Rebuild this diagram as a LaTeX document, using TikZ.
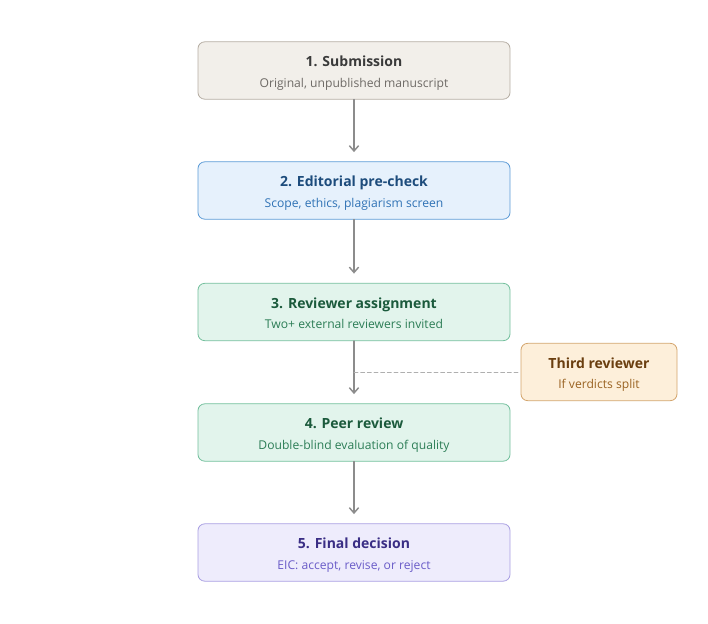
\documentclass[tikz,border=0pt]{standalone}
\usepackage{fontspec}
\setmainfont{Open Sans}
\usepackage{tikz}
\usetikzlibrary{positioning,arrows.meta}

\definecolor{subfill}{HTML}{F2EFEA}
\definecolor{subline}{HTML}{B5ADA3}
\definecolor{subhead}{HTML}{3A3A3A}
\definecolor{subtext}{HTML}{6E6A66}
\definecolor{edfill}{HTML}{E6F1FC}
\definecolor{edline}{HTML}{5C9BD6}
\definecolor{edhead}{HTML}{1D4C7C}
\definecolor{edtext}{HTML}{2F72B5}
\definecolor{revfill}{HTML}{E2F4EC}
\definecolor{revline}{HTML}{72BF9C}
\definecolor{revhead}{HTML}{1B5A3C}
\definecolor{revtext}{HTML}{2C7D56}
\definecolor{thfill}{HTML}{FDEFDA}
\definecolor{thline}{HTML}{D3A46B}
\definecolor{thhead}{HTML}{6A3E0F}
\definecolor{thtext}{HTML}{9A6322}
\definecolor{decfill}{HTML}{EEECFC}
\definecolor{decline}{HTML}{A99FE2}
\definecolor{dechead}{HTML}{3A2E85}
\definecolor{dectext}{HTML}{6A5CC8}
\definecolor{flow}{HTML}{8C8C8C}

\tikzset{
  stage/.style={draw, rounded corners=5pt, line width=0.6pt, minimum width=234pt,
    minimum height=43pt, align=center, inner sep=0pt},
  aside/.style={stage, minimum width=117pt},
  flowarrow/.style={draw=flow, line width=1.1pt, -{Straight Barb[length=4pt,width=7pt]}},
  link/.style={draw=flow!70, line width=0.6pt, dash pattern=on 3pt off 2pt},
}
\newcommand{\stagetext}[2]{\raisebox{-2.5pt}[\height][\depth]{\begin{tabular}{@{}c@{}}%
  {\fontsize{10.5}{13}\selectfont #1}\\[3.5pt]{\fontsize{9.1}{11}\selectfont #2}\end{tabular}}}

\begin{document}
\begin{tikzpicture}[x=0.75pt, y=-0.75pt, line cap=round, line join=round]
  \useasboundingbox (0,0) rectangle (708,624);
  % main column
  \node[stage, fill=subfill, draw=subline] (submit) at (354,70.5)
    {\stagetext{\color{subhead}\bfseries 1. Submission}{\color{subtext}Original, unpublished manuscript}};
  \node[stage, fill=edfill, draw=edline] (precheck) at (354,190.5)
    {\stagetext{\color{edhead}\bfseries 2. Editorial pre-check}{\color{edtext}Scope, ethics, plagiarism screen}};
  \node[stage, fill=revfill, draw=revline] (assign) at (354,312)
    {\stagetext{\color{revhead}\bfseries 3. Reviewer assignment}{\color{revtext}Two+ external reviewers invited}};
  \node[stage, fill=revfill, draw=revline] (review) at (354,432.5)
    {\stagetext{\color{revhead}\bfseries 4. Peer review}{\color{revtext}Double-blind evaluation of quality}};
  \node[stage, fill=decfill, draw=decline] (decide) at (354,552.5)
    {\stagetext{\color{dechead}\bfseries 5. Final decision}{\color{dectext}EIC: accept, revise, or reject}};
  % side branch
  \node[aside, fill=thfill, draw=thline] (third) at (599,372)
    {\stagetext{\color{thhead}\bfseries Third reviewer}{\color{thtext}If verdicts split}};
  \coordinate (join) at (354,372);

  \draw[flowarrow] (submit) -- ([yshift=7pt]precheck.north);
  \draw[flowarrow] (precheck) -- ([yshift=7pt]assign.north);
  \draw[flowarrow] (assign) -- ([yshift=7pt]review.north);
  \draw[flowarrow] (review) -- ([yshift=7pt]decide.north);
  \draw[link] (join) -- (third.west);
\end{tikzpicture}
\end{document}
